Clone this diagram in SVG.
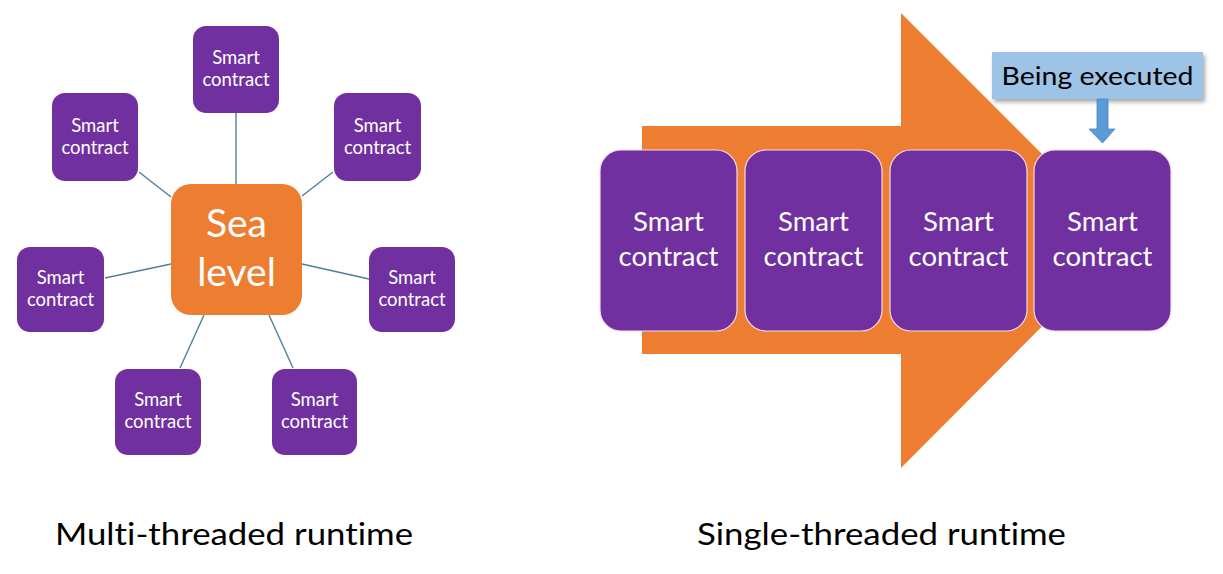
<svg xmlns="http://www.w3.org/2000/svg" width="1223" height="574" viewBox="0 0 1223 574">
<defs>
<style>
text{font-variant-ligatures:none}
.sc{fill:#7030a0}
.bc{fill:#7030a0;stroke:#f4d9f0;stroke-width:1.2}
.st{font-family:Lato,"Liberation Sans",sans-serif;fill:#ffffff;text-anchor:middle;font-size:18.5px}
.bt{font-family:Lato,"Liberation Sans",sans-serif;fill:#ffffff;text-anchor:middle;font-size:27.5px}
.lbl{font-family:Lato,"Liberation Sans",sans-serif;fill:#000000;font-size:31px}
.conn line{stroke:#4f7e9e;stroke-width:1.4}
</style>
<filter id="sh" x="-10%" y="-20%" width="130%" height="160%">
<feDropShadow dx="2" dy="3" stdDeviation="2" flood-color="#000" flood-opacity="0.35"/>
</filter>
</defs>
<rect width="1223" height="574" fill="#ffffff"/>

<g id="connectors" class="conn">
<line x1="236" y1="113" x2="236" y2="184"/>
<line x1="139" y1="172" x2="171" y2="197"/>
<line x1="333" y1="172" x2="302" y2="196"/>
<line x1="105" y1="278" x2="171" y2="264"/>
<line x1="302" y1="264" x2="369" y2="279"/>
<line x1="204" y1="315" x2="180" y2="368"/>
<line x1="269" y1="315" x2="293" y2="368"/>
</g>

<g id="sea-level">
<rect x="171" y="184" width="131" height="131" rx="20" fill="#ed7d31"/>
<text x="236.5" y="237" font-family="Lato,'Liberation Sans',sans-serif" font-size="39" fill="#ffffff" text-anchor="middle">Sea</text>
<text x="236.5" y="286" font-family="Lato,'Liberation Sans',sans-serif" font-size="39" fill="#ffffff" text-anchor="middle">level</text>
</g>

<g id="sc-top">
<rect class="sc" x="193" y="26" width="86" height="87" rx="13"/>
<text class="st" x="236" y="64">Smart</text><text class="st" x="236" y="86">contract</text>
</g>
<g id="sc-upper-left">
<rect class="sc" x="52" y="93" width="86" height="88" rx="13"/>
<text class="st" x="95" y="132">Smart</text><text class="st" x="95" y="154">contract</text>
</g>
<g id="sc-upper-right">
<rect class="sc" x="334" y="93" width="87" height="88" rx="13"/>
<text class="st" x="377.5" y="132">Smart</text><text class="st" x="377.5" y="154">contract</text>
</g>
<g id="sc-mid-left">
<rect class="sc" x="17" y="247" width="87" height="85" rx="13"/>
<text class="st" x="60.5" y="284">Smart</text><text class="st" x="60.5" y="306">contract</text>
</g>
<g id="sc-mid-right">
<rect class="sc" x="369" y="247" width="86" height="85" rx="13"/>
<text class="st" x="412" y="284">Smart</text><text class="st" x="412" y="306">contract</text>
</g>
<g id="sc-bottom-left">
<rect class="sc" x="115" y="369" width="86" height="86" rx="13"/>
<text class="st" x="158" y="406">Smart</text><text class="st" x="158" y="428">contract</text>
</g>
<g id="sc-bottom-right">
<rect class="sc" x="272" y="369" width="85" height="86" rx="13"/>
<text class="st" x="314.5" y="406">Smart</text><text class="st" x="314.5" y="428">contract</text>
</g>

<g id="flow-arrow">
<polygon points="642,126 901,126 901,13 1128,240 901,468 901,354 642,354" fill="#ed7d31"/>
</g>

<g id="sc-1">
<rect class="bc" x="600" y="150" width="137" height="181" rx="21"/>
<text class="bt" x="668.5" y="231">Smart</text><text class="bt" x="668.5" y="266">contract</text>
</g>
<g id="sc-2">
<rect class="bc" x="745" y="150" width="137" height="181" rx="21"/>
<text class="bt" x="813.5" y="231">Smart</text><text class="bt" x="813.5" y="266">contract</text>
</g>
<g id="sc-3">
<rect class="bc" x="890" y="150" width="137" height="181" rx="21"/>
<text class="bt" x="958.5" y="231">Smart</text><text class="bt" x="958.5" y="266">contract</text>
</g>
<g id="sc-4">
<rect class="bc" x="1034" y="150" width="137" height="181" rx="21"/>
<text class="bt" x="1102.5" y="231">Smart</text><text class="bt" x="1102.5" y="266">contract</text>
</g>

<g id="being-executed">
<rect x="992" y="52" width="211" height="47" fill="#9dc3e6" filter="url(#sh)"/>
<text x="1097.5" y="85" font-family="Lato,'Liberation Sans',sans-serif" font-size="25" fill="#000000" text-anchor="middle" textLength="192" lengthAdjust="spacingAndGlyphs">Being executed</text>
<polygon points="1097,99 1108,99 1108,129 1115,129 1102.5,143 1089,129 1097,129" fill="#5b9bd5" stroke="#4a86c0" stroke-width="0.8"/>
</g>

<g id="labels">
<text class="lbl" x="55" y="545" textLength="358" lengthAdjust="spacingAndGlyphs">Multi-threaded  runtime</text>
<text class="lbl" x="697" y="545" textLength="369" lengthAdjust="spacingAndGlyphs">Single-threaded  runtime</text>
</g>
</svg>
